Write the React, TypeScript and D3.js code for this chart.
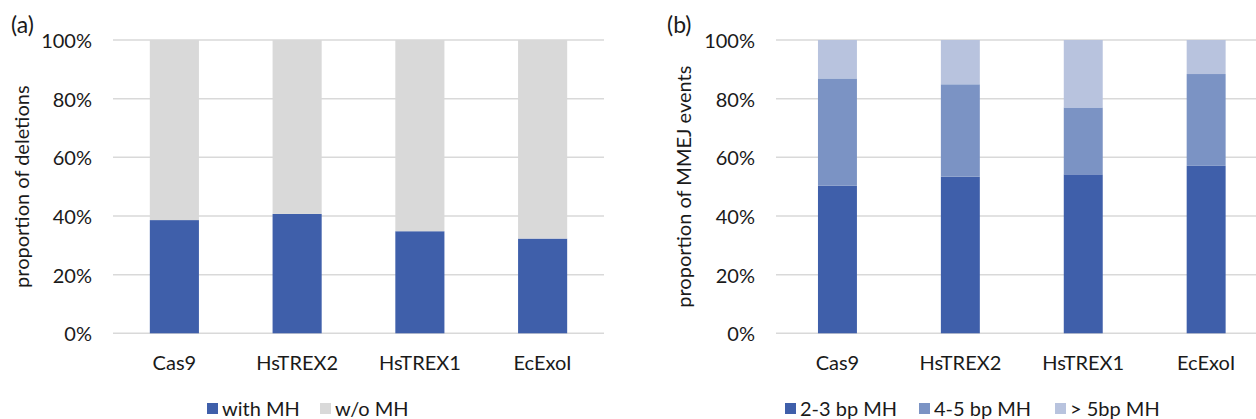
import * as d3 from "d3";

const categories = ["Cas9", "HsTREX2", "HsTREX1", "EcExoI"];

// panel (a): share of deletions with / without microhomology
const withMH = [0.386, 0.407, 0.348, 0.323];
const withoutMH = withMH.map((v) => 1 - v);

// panel (b): MMEJ events by microhomology length
const mh23 = [0.503, 0.534, 0.542, 0.571];
const mh45 = [0.366, 0.315, 0.228, 0.313];
const mh5plus = [0.131, 0.151, 0.23, 0.116];

const yTicks = [0, 0.2, 0.4, 0.6, 0.8, 1];

const width = 1256;
const height = 419;
const plotTop = 40;
const plotBottom = 333.3;
const font = "Lato, 'Noto Sans', sans-serif";
const fontSize = 20;
const textColor = "#1a1a1a";
const gridColor = "#d9d9d9";

type Series = { name: string; values: number[]; color: string };

type PanelProps = {
  label: string;
  labelX: number;
  axisTitle: string;
  x0: number;
  x1: number;
  barRatio: number;
  series: Series[];
  titleX: number;
  legendX: number[];
};

function Panel({ label, labelX, axisTitle, x0, x1, barRatio, series, titleX, legendX }: PanelProps) {
  const x = d3.scaleBand<string>().domain(categories).range([x0, x1]).paddingInner(0).paddingOuter(0);
  const y = d3.scaleLinear().domain([0, 1]).range([plotBottom, plotTop]);
  const fmt = d3.format(".0%");

  const rows = categories.map((c, i) => {
    const row: Record<string, number | string> = { cat: c };
    series.forEach((s) => {
      row[s.name] = s.values[i];
    });
    return row;
  });
  const stacked = d3.stack<Record<string, number | string>>().keys(series.map((s) => s.name))(rows as any);
  const bw = x.bandwidth() * barRatio;

  return (
    <g>
      <text x={labelX} y={33} fontSize={23} fontFamily={font} fill={textColor}>
        {label}
      </text>
      {yTicks.map((t) => (
        <g key={t}>
          <line x1={x0} x2={x1} y1={y(t)} y2={y(t)} stroke={gridColor} strokeWidth={1.5} />
          <text
            x={x0 - 21}
            y={y(t)}
            textAnchor="end"
            dominantBaseline="central"
            fontSize={fontSize}
            fontFamily={font}
            fill={textColor}
          >
            {fmt(t)}
          </text>
        </g>
      ))}
      <text
        transform={`translate(${titleX}, ${(plotTop + plotBottom) / 2}) rotate(-90)`}
        textAnchor="middle"
        dominantBaseline="central"
        fontSize={fontSize}
        fontFamily={font}
        fill={textColor}
      >
        {axisTitle}
      </text>
      {stacked.map((layer, li) => (
        <g key={series[li].name} fill={series[li].color}>
          {layer.map((d, i) => {
            const cx = (x(categories[i]) ?? 0) + x.bandwidth() / 2;
            return (
              <rect
                key={categories[i]}
                x={cx - bw / 2}
                y={y(d[1])}
                width={bw}
                height={y(d[0]) - y(d[1])}
              />
            );
          })}
        </g>
      ))}
      {categories.map((c) => (
        <text
          key={c}
          x={(x(c) ?? 0) + x.bandwidth() / 2}
          y={362}
          textAnchor="middle"
          dominantBaseline="central"
          fontSize={fontSize}
          fontFamily={font}
          fill={textColor}
        >
          {c}
        </text>
      ))}
      {series.map((s, i) => (
        <g key={s.name} transform={`translate(${legendX[i]}, 408)`}>
          <rect x={0} y={-5} width={11} height={11} fill={s.color} />
          <text x={15} y={0} dominantBaseline="central" fontSize={fontSize} fontFamily={font} fill={textColor}>
            {s.name}
          </text>
        </g>
      ))}
    </g>
  );
}

export default function App() {
  return (
    <svg
      width={width}
      height={height}
      style={{ position: "absolute", left: 0, top: 0, background: "#fff" }}
    >
      <rect width={width} height={height} fill="#fff" />
      <Panel
        label="(a)"
        labelX={11}
        axisTitle="proportion of deletions"
        x0={113}
        x1={604}
        barRatio={0.4}
        titleX={21}
        legendX={[207, 320]}
        series={[
          { name: "with MH", values: withMH, color: "#3f5faa" },
          { name: "w/o MH", values: withoutMH, color: "#d9d9d9" }
        ]}
      />
      <Panel
        label="(b)"
        labelX={667}
        axisTitle="proportion of MMEJ events"
        x0={776}
        x1={1267.6}
        barRatio={0.317}
        titleX={683}
        legendX={[785, 919, 1055]}
        series={[
          { name: "2-3 bp MH", values: mh23, color: "#3f5faa" },
          { name: "4-5 bp MH", values: mh45, color: "#7b93c4" },
          { name: "> 5bp MH", values: mh5plus, color: "#b8c3de" }
        ]}
      />
    </svg>
  );
}
